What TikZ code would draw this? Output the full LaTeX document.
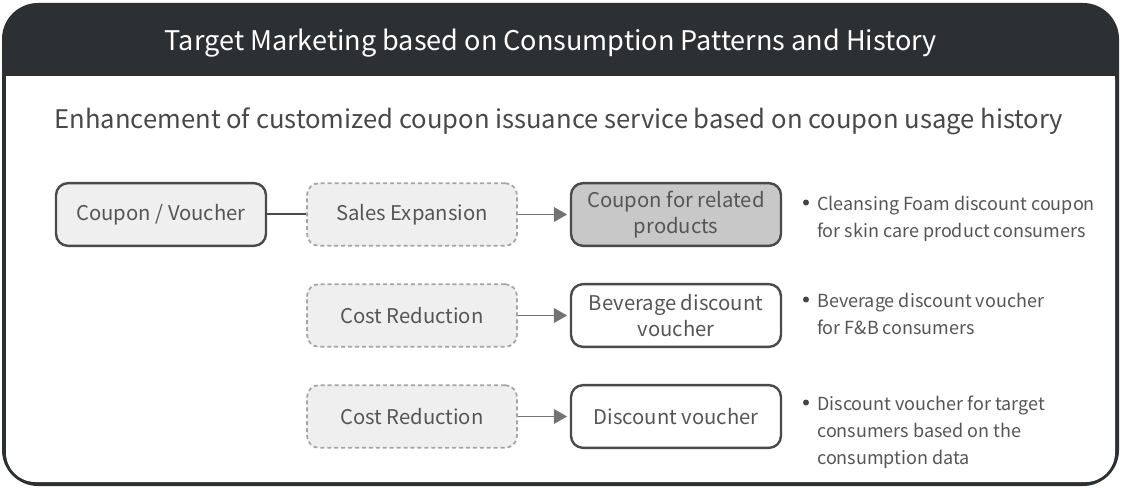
\documentclass[tikz,border=0pt]{standalone}
\usepackage{fontspec}
\setmainfont{Noto Sans CJK KR}
\usepackage{tikz}
\usetikzlibrary{arrows.meta}

\definecolor{hdrdark}{RGB}{44,48,51}
\definecolor{boxline}{RGB}{74,74,74}
\definecolor{boxfill}{RGB}{239,239,239}
\definecolor{boxdark}{RGB}{200,200,200}
\definecolor{dashline}{RGB}{165,165,165}
\definecolor{arrowgray}{RGB}{115,115,115}
\definecolor{txtgray}{RGB}{85,85,85}

\begin{document}
\begin{tikzpicture}[x=0.75pt,y=0.75pt,yscale=-1,xscale=1,
  typebox/.style={draw=boxline, line width=1.8pt, rounded corners=9pt, minimum width=157.5pt, minimum height=47pt, inner sep=0pt, align=center, text=txtgray, font=\fontsize{15.2}{20}\selectfont},
  goalbox/.style={draw=dashline, fill=boxfill, line width=1.3pt, dash pattern=on 3pt off 2.2pt, rounded corners=9pt, minimum width=157.5pt, minimum height=47pt, inner sep=0pt, align=center, text=txtgray, font=\fontsize{15.2}{20}\selectfont},
  notetext/.style={anchor=north west, inner sep=0pt, align=left, text=txtgray, font=\fontsize{13.5}{20}\selectfont},
  flow/.style={draw=arrowgray, line width=1.4pt, -{Triangle[length=10pt,width=11pt]}, shorten >=2pt},
  link/.style={draw=boxline, line width=1.5pt}]
\useasboundingbox (0,0) rectangle (1121,488);

% Frame
\fill[hdrdark, rounded corners=27] (2,3) rectangle (1119,486);
\fill[white, rounded corners=22] (6,50) rectangle (1115,482);
\fill[hdrdark] (6,40) rectangle (1115,76);

% Text Node
\node (title) at (551,43.5) [inner sep=0pt, text=white, font=\fontsize{20.3}{24}\selectfont] {Target Marketing based on Consumption Patterns and History};
% Text Node
\node (subtitle) at (559,121.5) [inner sep=0pt, text=txtgray!85!black, font=\fontsize{19.2}{23}\selectfont] {Enhancement of customized coupon issuance service based on coupon usage history};

% Boxes
\node (coupon) at (161,214.5) [typebox, fill=boxfill] {Coupon / Voucher};
\node (sales) at (412,214.5) [goalbox] {Sales Expansion};
\node (related) at (676,214.5) [typebox, fill=boxdark] {Coupon for related\\products};
\node (costa) at (412,315.5) [goalbox] {Cost Reduction};
\node (beverage) at (676,315.5) [typebox, fill=white] {Beverage discount\\voucher};
\node (costb) at (412,416.5) [goalbox] {Cost Reduction};
\node (discount) at (676,416.5) [typebox, fill=white] {Discount voucher};

% Notes
\node (notea) at (817,196) [notetext] {Cleansing Foam discount coupon\\for skin care product consumers};
\node (noteb) at (817,293) [notetext] {Beverage discount voucher\\for F\&B consumers};
\node (notec) at (817,396) [notetext] {Discount voucher for target\\consumers based on the\\consumption data};
\fill[txtgray!80!black] (806,202.5) circle (3);
\fill[txtgray!80!black] (806,299.5) circle (3);
\fill[txtgray!80!black] (806,402.5) circle (3);

% Connection
\draw [link] (coupon) -- (sales);
% Connection
\draw [flow] (sales) -- (related);
% Connection
\draw [flow] (costa) -- (beverage);
% Connection
\draw [flow] (costb) -- (discount);

\end{tikzpicture}
\end{document}
